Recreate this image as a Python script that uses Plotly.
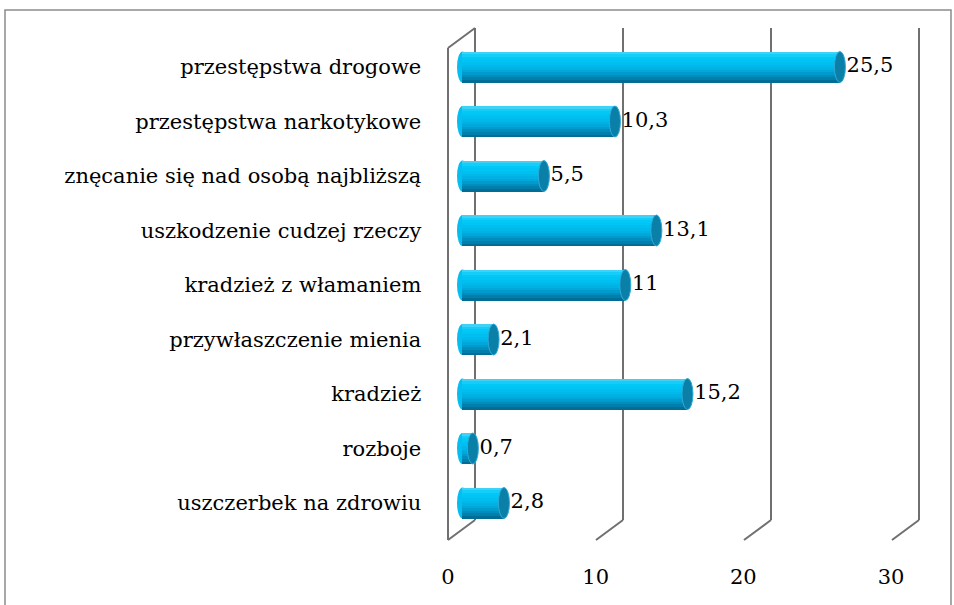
import plotly.graph_objects as go

# ---- data (bottom -> top) ----
categories = [
    "uszczerbek na zdrowiu",
    "rozboje",
    "kradzież",
    "przywłaszczenie mienia",
    "kradzież z włamaniem",
    "uszkodzenie cudzej rzeczy",
    "znęcanie się nad osobą najbliższą",
    "przestępstwa narkotykowe",
    "przestępstwa drogowe",
]
values = [2.8, 0.7, 15.2, 2.1, 11, 13.1, 5.5, 10.3, 25.5]
x_ticks = [0, 10, 20, 30]
labels = [f"{v:g}".replace(".", ",") for v in values]

W, H = 954, 605
FONT = "DejaVu Serif"
FS = 21


def px_x(p):
    return p / W


def px_y(p):
    return 1 - p / H


# plot geometry (pixels)
X0_MID = 462.5
UNIT = 14.8
X0_FRONT, X30_FRONT = 448, 891
BACK_OFF = (475 - X0_MID) / UNIT
FRONT_OFF = (X0_MID - X0_FRONT) / UNIT
XR = [-1.5, 31.5]
Y_TOP_BACK, Y_BOT_BACK = 28, 520
Y_TOP_FRONT, Y_BOT_FRONT = 48, 540

idx = list(range(len(categories)))

fig = go.Figure()

# cylinder body as gradient stripes
stripe_colors = ["#3FD2F6", "#14CDF8", "#02C8F7", "#00C4F4", "#00BFF0", "#00B9EB",
                 "#00B1E4", "#00A7DA", "#009BCD", "#008DBE", "#007EAC", "#006D96"]
BAR_H = 31 / 54.5
n = len(stripe_colors)
sw = BAR_H / n
for k, c in enumerate(stripe_colors):
    fig.add_trace(go.Bar(
        x=values, y=idx, orientation="h",
        width=sw * 1.04, offset=BAR_H / 2 - (k + 1) * sw,
        marker=dict(color=c, line=dict(width=0)),
        showlegend=False, hoverinfo="skip",
    ))

# data labels
fig.add_trace(go.Scatter(
    x=values, y=idx, mode="text",
    text=["\u00a0" + t for t in labels], textposition="middle right",
    textfont=dict(family=FONT, size=FS, color="#000000"),
    showlegend=False, hoverinfo="skip", cliponaxis=False,
))

# dummy trace for the front axis (tick labels)
fig.add_trace(go.Scatter(x=[None], y=[None], xaxis="x2", yaxis="y",
                         showlegend=False, hoverinfo="skip"))

shapes = []
GRID = dict(color="#707070", width=2)
# back wall vertical lines
for t in x_ticks:
    shapes.append(dict(type="line", xref="x", yref="paper", layer="below",
                       x0=t + BACK_OFF, x1=t + BACK_OFF,
                       y0=px_y(Y_TOP_BACK), y1=px_y(Y_BOT_BACK), line=GRID))
# floor diagonals
for t in x_ticks:
    shapes.append(dict(type="line", xref="x", yref="paper", layer="below",
                       x0=t + BACK_OFF, x1=t - FRONT_OFF,
                       y0=px_y(Y_BOT_BACK), y1=px_y(Y_BOT_FRONT), line=GRID))
# left wall
shapes.append(dict(type="line", xref="x", yref="paper", layer="below",
                   x0=-FRONT_OFF, x1=-FRONT_OFF,
                   y0=px_y(Y_TOP_FRONT), y1=px_y(Y_BOT_FRONT), line=GRID))
shapes.append(dict(type="line", xref="x", yref="paper", layer="below",
                   x0=-FRONT_OFF, x1=BACK_OFF,
                   y0=px_y(Y_TOP_FRONT), y1=px_y(Y_TOP_BACK), line=GRID))

CAP = 5.5 / UNIT
# left rounded ends
for i, v in zip(idx, values):
    shapes.append(dict(type="circle", xref="x", yref="y", layer="below",
                       x0=-CAP, x1=CAP, y0=i - BAR_H / 2, y1=i + BAR_H / 2,
                       fillcolor="#05BEEF", line=dict(width=0)))
# right end caps
for i, v in zip(idx, values):
    shapes.append(dict(type="circle", xref="x", yref="y", layer="above",
                       x0=v - CAP, x1=v + CAP, y0=i - BAR_H / 2, y1=i + BAR_H / 2,
                       fillcolor="#0A7FA8", line=dict(color="#2FA9D6", width=1)))
# outer border
shapes.append(dict(type="rect", xref="paper", yref="paper",
                   x0=px_x(5), x1=px_x(951), y0=-0.05, y1=px_y(10),
                   line=dict(color="#8C8C8C", width=1.5), fillcolor="rgba(0,0,0,0)"))

fig.update_layout(
    width=W, height=H, autosize=False,
    margin=dict(l=0, r=0, t=0, b=0, pad=0, autoexpand=False),
    paper_bgcolor="#FFFFFF", plot_bgcolor="rgba(0,0,0,0)",
    barmode="overlay", bargap=0,
    showlegend=False,
    shapes=shapes,
    font=dict(family=FONT, size=FS, color="#000000"),
    xaxis=dict(domain=[px_x(X0_MID + XR[0] * UNIT), px_x(X0_MID + XR[1] * UNIT)],
               range=XR, visible=False, fixedrange=True, automargin=False),
    xaxis2=dict(domain=[px_x(X0_FRONT), px_x(X30_FRONT)], range=[0, 30],
                anchor="free", position=px_y(562), fixedrange=True, automargin=False,
                tickvals=x_ticks, ticktext=[str(t) for t in x_ticks],
                showgrid=False, zeroline=False, showline=False, ticks="",
                tickfont=dict(family=FONT, size=FS, color="#000000")),
    yaxis=dict(domain=[px_y(503 + 54.5 * 0.5), px_y(67 - 54.5 * 0.5)],
               range=[-0.5, 8.5], anchor="x", fixedrange=True, automargin=False,
               tickvals=idx, ticktext=categories,
               showgrid=False, zeroline=False, showline=False, ticks="",
               ticklabelstandoff=18,
               tickfont=dict(family=FONT, size=FS, color="#000000")),
)

fig.write_html(
    "out.html",
    config={"displayModeBar": False, "responsive": False},
    post_script="document.body.style.margin='0';document.body.style.overflow='hidden';",
)
